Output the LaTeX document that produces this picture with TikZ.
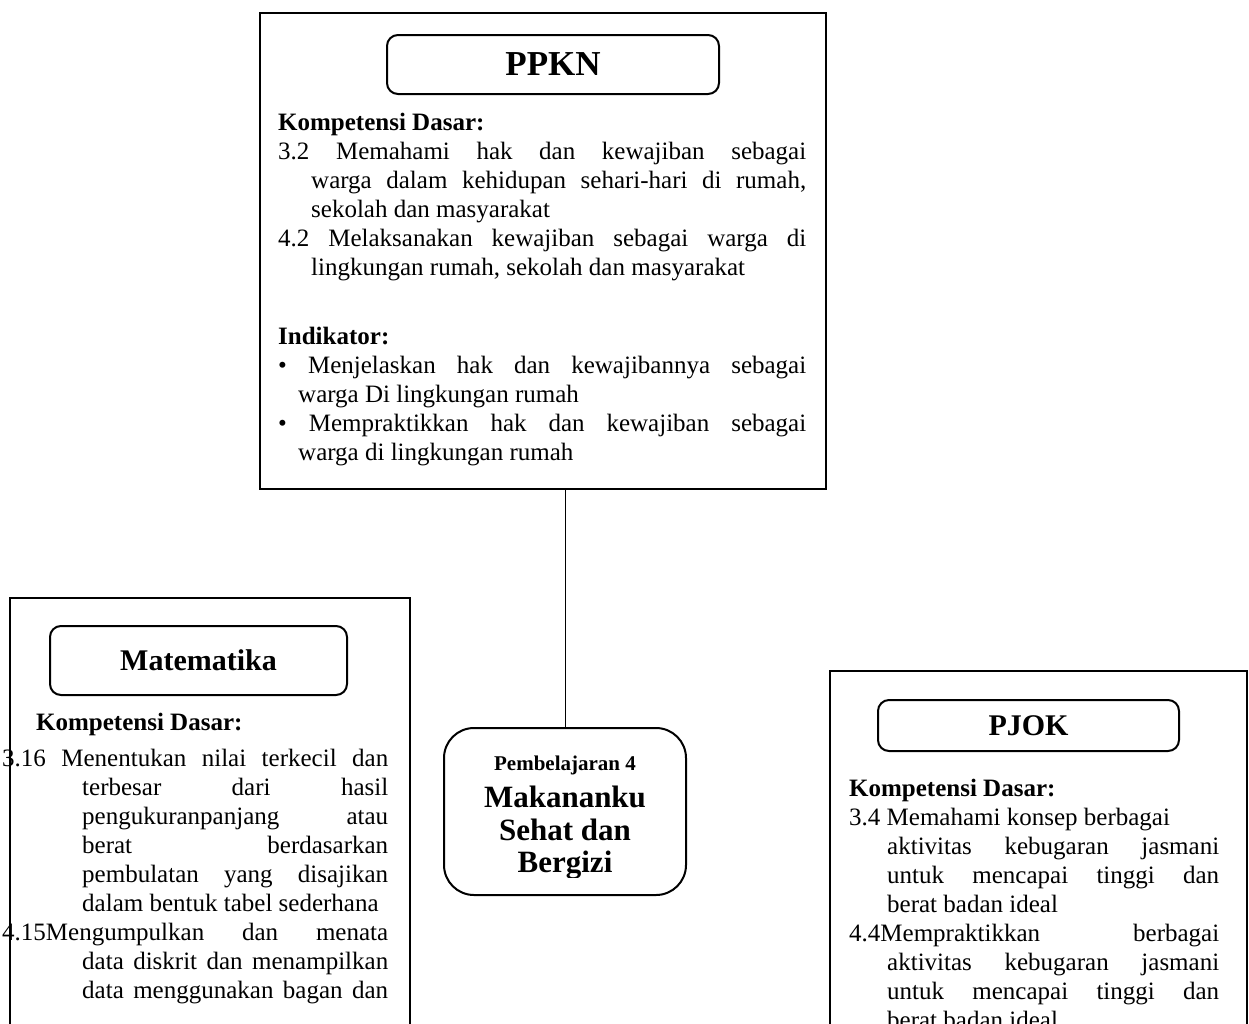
\documentclass[tikz,border=0pt]{standalone}
\usepackage{fontspec}
\setmainfont{Liberation Serif}
\begin{document}
\begin{tikzpicture}[x=1pt,y=-1pt,
  txt/.style={anchor=base west, inner sep=0pt, font=\fontsize{25}{29}\selectfont},
  hdr/.style={anchor=base west, inner sep=0pt, font=\fontsize{25}{29}\selectfont\bfseries},
  outerbox/.style={draw, line width=2pt, anchor=north west, inner sep=0pt},
  titlebox/.style={draw, line width=2pt, rounded corners=11pt, inner sep=0pt, font=\fontsize{30}{34}\selectfont\bfseries},
  centerbox/.style={draw, line width=2pt, rounded corners=30pt, inner sep=0pt},
  ctitle/.style={anchor=base, inner sep=0pt, font=\fontsize{31}{33}\selectfont\bfseries},
  link/.style={line width=1pt}
]
\useasboundingbox (0,0) rectangle (1249,1023);
\clip (0,0) rectangle (1249,1023);
\fill[white] (0,0) rectangle (1249,1023);

% ---------- PPKN ----------
\node[outerbox, minimum width=566pt, minimum height=476pt] (ppkn) at (259,12) {};
\node[titlebox, minimum width=332pt, minimum height=59pt, font=\fontsize{35}{38}\selectfont\bfseries] (ppknt) at (553,64.5) {PPKN};
\node[hdr] (p1) at (278,130) {Kompetensi Dasar:};
\node[txt] (p2) at (278,159) {\makebox[528pt][s]{3.2 Memahami hak dan kewajiban sebagai}};
\node[txt] (p3) at (311,188) {\makebox[495pt][s]{warga dalam kehidupan sehari-hari di rumah,}};
\node[txt] (p4) at (311,217) {sekolah dan masyarakat};
\node[txt] (p5) at (278,246) {\makebox[528pt][s]{4.2 Melaksanakan kewajiban sebagai warga di}};
\node[txt] (p6) at (311,275) {lingkungan rumah, sekolah dan masyarakat};
\node[hdr] (p7) at (278,344) {Indikator:};
\node[txt] (p8) at (278,373) {\makebox[528pt][s]{• Menjelaskan hak dan kewajibannya sebagai}};
\node[txt] (p9) at (298,402) {warga Di lingkungan rumah};
\node[txt] (p10) at (278,431) {\makebox[528pt][s]{• Mempraktikkan hak dan kewajiban sebagai}};
\node[txt] (p11) at (298,460) {warga di lingkungan rumah};

% ---------- Center ----------
\node[centerbox, minimum width=242pt, minimum height=167pt] (center) at (565,811.5) {};
\node[anchor=base, inner sep=0pt, font=\fontsize{21}{24}\selectfont\bfseries] (c1) at (565,770) {Pembelajaran 4};
\node[ctitle] (c2) at (565,807) {Makananku};
\node[ctitle] (c3) at (565,840) {Sehat dan};
\begin{scope}
\clip (450,840) rectangle (680,877);
\node[ctitle] (c4) at (565,872) {Bergizi};
\end{scope}
\draw[link] (center.north) -- (center.north |- ppkn.south);

% ---------- Matematika ----------
\node[outerbox, minimum width=400pt, minimum height=460pt] (mtk) at (9,597) {};
\node[titlebox, minimum width=297pt, minimum height=69pt] (mtkt) at (198.5,660.5) {Matematika};
\node[hdr] (m1) at (36,730) {Kompetensi Dasar:};
\node[txt] (m2) at (2,766) {\makebox[386pt][s]{3.16 Menentukan nilai terkecil dan}};
\node[txt] (m3) at (82,795) {\makebox[306pt][s]{terbesar dari hasil}};
\node[txt] (m4) at (82,824) {\makebox[306pt][s]{pengukuranpanjang atau}};
\node[txt] (m5) at (82,853) {\makebox[306pt][s]{berat berdasarkan}};
\node[txt] (m6) at (82,882) {\makebox[306pt][s]{pembulatan yang disajikan}};
\node[txt] (m7) at (82,911) {dalam bentuk tabel sederhana};
\node[txt] (m8) at (2,940) {\makebox[386pt][s]{4.15Mengumpulkan dan menata}};
\node[txt] (m9) at (82,969) {\makebox[306pt][s]{data diskrit dan menampilkan}};
\node[txt] (m10) at (82,998) {\makebox[306pt][s]{data menggunakan bagan dan}};

% ---------- PJOK ----------
\node[outerbox, minimum width=417pt, minimum height=400pt] (pjok) at (829,670) {};
\node[titlebox, minimum width=301pt, minimum height=51pt] (pjokt) at (1028.5,725.5) {PJOK};
\node[hdr] (j1) at (849,796) {Kompetensi Dasar:};
\node[txt] (j2) at (849,825) {3.4 Memahami konsep berbagai};
\node[txt] (j3) at (887,854) {\makebox[332pt][s]{aktivitas kebugaran jasmani}};
\node[txt] (j4) at (887,883) {\makebox[332pt][s]{untuk mencapai tinggi dan}};
\node[txt] (j5) at (887,912) {berat badan ideal};
\node[txt] (j6) at (849,941) {\makebox[370pt][s]{4.4Mempraktikkan berbagai}};
\node[txt] (j7) at (887,970) {\makebox[332pt][s]{aktivitas kebugaran jasmani}};
\node[txt] (j8) at (887,999) {\makebox[332pt][s]{untuk mencapai tinggi dan}};
\node[txt] (j9) at (887,1028) {berat badan ideal};
\end{tikzpicture}
\end{document}
